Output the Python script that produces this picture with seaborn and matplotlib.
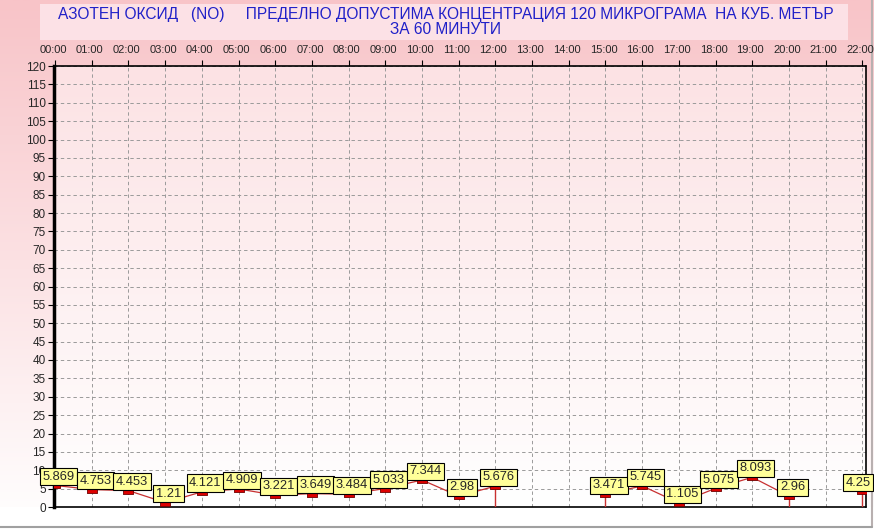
import matplotlib
matplotlib.use("Agg")
import matplotlib.pyplot as plt
import matplotlib.transforms as mtransforms
import numpy as np
import pandas as pd
import seaborn as sns
from matplotlib.path import Path as MPath
from matplotlib.patches import Rectangle

sns.set_theme(style="white")
plt.rcParams["font.family"] = ["Liberation Sans", "DejaVu Sans"]

# hourly NO values (µg/m3), missing hours are NaN
hours = list(range(23))
hour_labels = [f"{h:02d}:00" for h in hours]
values = [5.869, 4.753, 4.453, 1.21, 4.121, 4.909, 3.221, 3.649, 3.484, 5.033,
          7.344, 2.98, 5.676, np.nan, np.nan, 3.471, 5.745, 1.105, 5.075, 8.093,
          2.96, np.nan, 4.25]
label_texts = ["5.869", "4.753", "4.453", "1.21", "4.121", "4.909", "3.221", "3.649",
               "3.484", "5.033", "7.344", "2.98", "5.676", "", "", "3.471", "5.745",
               "1.105", "5.075", "8.093", "2.96", "", "4.25"]
y_ticks = list(range(0, 121, 5))
title = ("АЗОТЕН ОКСИД   (NO)     ПРЕДЕЛНО ДОПУСТИМА КОНЦЕНТРАЦИЯ 120 МИКРОГРАМА  НА КУБ. МЕТЪР\n"
         "ЗА 60 МИНУТИ")

df = pd.DataFrame({"hour": hours, "value": values, "label": label_texts})
# continuous runs of measured hours (the line breaks at missing hours)
df["run"] = df["value"].isna().cumsum()

W, H = 874, 529
fig = plt.figure(figsize=(W / 100, H / 100), dpi=100)

# figure background gradient (pink -> white)
bg = fig.add_axes([0, 0, 1, 1])
bg.set_axis_off()
grad = np.linspace(0, 1, 256).reshape(-1, 1)
top_c = np.array([248, 196, 200]) / 255
bot_c = np.array([255, 255, 255]) / 255
img = top_c + (bot_c - top_c) * grad[..., None]
bg.imshow(img, aspect="auto", extent=[0, 1, 0, 1], origin="upper")
bg.set_xlim(0, 1); bg.set_ylim(0, 1)
# title box
bg.add_patch(Rectangle((40 / W, 1 - 40 / H), 808 / W, 36 / H,
                       facecolor="#fce1e6", edgecolor="none"))
bg.text(446 / W, 1 - 22 / H, title, ha="center", va="center", color="#2020c8",
        fontsize=11.2, linespacing=1.05)
# white strip below the plot and grey frame
bg.add_patch(Rectangle((0, 0), 1, (H - 507) / H, facecolor="white", edgecolor="none"))
bg.plot([871.5 / W, 871.5 / W], [2 / H, 1], color="#b8b0b0", lw=1.5)
bg.plot([0, 871.5 / W], [2 / H, 2 / H], color="#a0a0a0", lw=1.5)

ax = fig.add_axes([54 / W, (H - 507) / H, 812 / W, 441 / H])
ax.set_xlim(-0.03, 22.1)
ax.set_ylim(0, 120)
# plot area gradient
pg = np.array([252, 226, 228]) / 255
img2 = pg + (bot_c - pg) * grad[..., None]
ax.imshow(img2, aspect="auto", extent=[-0.03, 22.1, 0, 120], origin="upper", zorder=0)

ax.set_xticks(hours)
ax.set_xticklabels(hour_labels)
ax.set_yticks(y_ticks)
ax.xaxis.tick_top()
ax.tick_params(axis="x", top=True, bottom=False, length=4, width=0.8, color="black",
               labelsize=8, pad=4)
ax.tick_params(axis="y", left=True, length=4, width=0.8, color="black",
               labelsize=8.5, pad=2)
# hour labels sit a touch left of their ticks
shift = mtransforms.ScaledTranslation(-2 / 100, 0, fig.dpi_scale_trans)
for lbl in ax.get_xticklabels():
    lbl.set_transform(lbl.get_transform() + shift)
ax.grid(True, color="#9a9a9a", linestyle=(0, (3.5, 3)), lw=0.7)
ax.set_axisbelow(True)

for side in ["top", "bottom"]:
    ax.spines[side].set_linestyle((0, (3, 1)))
    ax.spines[side].set_linewidth(1.2)
    ax.spines[side].set_color("black")
ax.spines["left"].set_linewidth(2.5)
ax.spines["left"].set_color("black")
ax.spines["right"].set_linewidth(1.2)
ax.spines["right"].set_color("black")

line_c = "#c83030"
valid = df.dropna(subset=["value"])
sns.lineplot(data=valid, x="hour", y="value", units="run", estimator=None, ax=ax,
             color=line_c, lw=0.9, zorder=3)

# drop lines at the ends of each continuous run
ends = df[df["value"].notna() & (df["value"].shift(-1).isna() | df["value"].shift(1).isna())]
ends = ends[ends["hour"] > 0]
ax.vlines(ends["hour"], 0, ends["value"], color=line_c, lw=1.0, zorder=3)

box = MPath([(-1, -0.55), (1, -0.55), (1, 0.55), (-1, 0.55), (-1, -0.55)])
ax.scatter(valid["hour"], valid["value"], marker=box, s=60, color="#dd0000",
           edgecolor="#700000", linewidth=0.6, zorder=4)

last_hour = valid["hour"].max()
for _, r in valid.iterrows():
    dx = -3 if r["hour"] == last_hour else 2.5
    ax.annotate(r["label"], (r["hour"], r["value"]), xytext=(dx, 2),
                textcoords="offset points", ha="center", va="bottom", fontsize=9.3,
                zorder=5, annotation_clip=False,
                bbox=dict(boxstyle="square,pad=0.2", facecolor="#ffff99",
                          edgecolor="black", lw=0.8))

ax.set_xlabel("")
ax.set_ylabel("")

fig.savefig("out.png", dpi=100)
